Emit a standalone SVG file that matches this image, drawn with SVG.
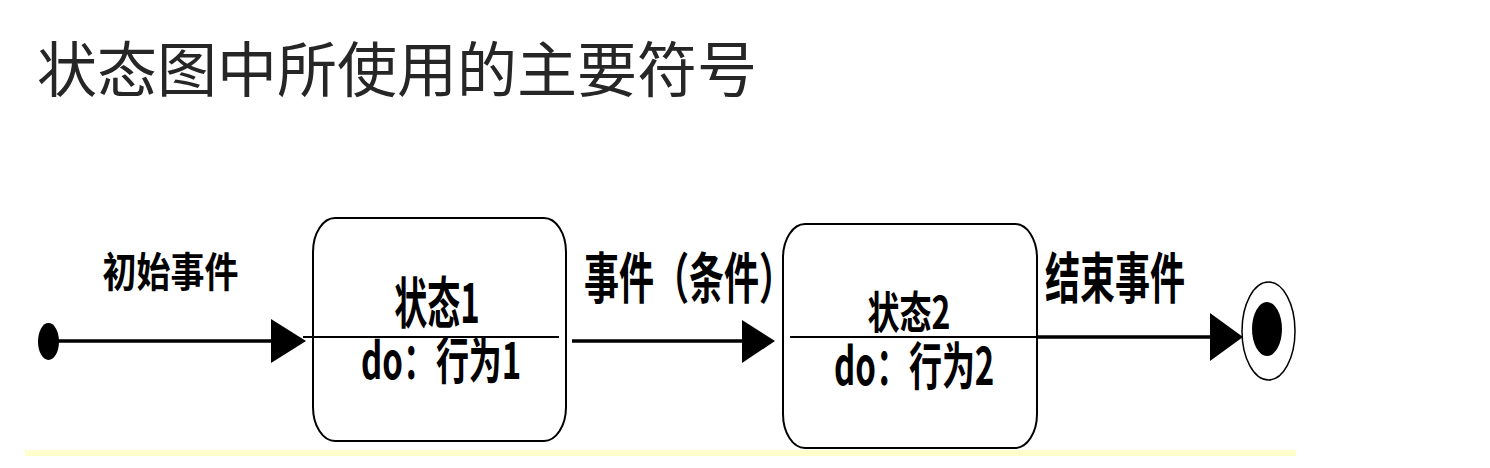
<svg xmlns="http://www.w3.org/2000/svg" width="1490" height="468" viewBox="0 0 1490 468">
  <style>
    .title { font-family: "Noto Sans CJK SC", "Noto Sans", sans-serif; font-size: 60px; fill: #262626; }
    .lbl { font-family: "Noto Sans CJK SC", "Noto Sans", sans-serif; font-weight: 700; fill: #000; }
    .state { fill: #fff; stroke: #000; stroke-width: 2; }
    .div { stroke: #000; stroke-width: 2; }
    .edge { stroke: #000; stroke-width: 3.5; fill: none; }
    .head { fill: #000; }
  </style>
  <rect x="0" y="0" width="1490" height="468" fill="#fff"/>
  <text class="title" x="37" y="92">状态图中所使用的主要符号</text>
  <rect x="25" y="450" width="1271" height="6" fill="#ffffcc"/>

  <g id="connectors">
    <line class="edge" x1="58" y1="341" x2="273" y2="341"/>
    <polygon class="head" points="271,319 306,341 271,363"/>
    <text class="lbl" font-size="34" text-anchor="middle" transform="translate(170.5,287) scale(1,1.21)">初始事件</text>

    <line class="edge" x1="572" y1="341" x2="744" y2="341"/>
    <polygon class="head" points="742,320 775,341 742,363"/>
    <text class="lbl" font-size="35" transform="translate(584,298) scale(1,1.56)">事件（条件）</text>

    <line class="edge" x1="1037" y1="337" x2="1212" y2="337"/>
    <polygon class="head" points="1210,313 1243,337 1210,361"/>
    <text class="lbl" font-size="35" text-anchor="middle" transform="translate(1115,298) scale(1,1.56)">结束事件</text>
  </g>

  <g id="initial">
    <ellipse cx="48.5" cy="341.5" rx="10.5" ry="18.5" fill="#000"/>
  </g>

  <g id="state1">
    <rect class="state" x="313" y="218" width="253" height="223" rx="22" ry="34"/>
    <line class="div" x1="303" y1="337" x2="559" y2="337"/>
    <text class="lbl" font-size="33" text-anchor="middle" transform="translate(437,323) scale(1,1.65)">状态1</text>
    <text class="lbl" font-size="33" transform="translate(361,379) scale(1,1.52)">do：行为1</text>
  </g>

  <g id="state2">
    <rect class="state" x="783" y="224" width="254" height="224" rx="22" ry="34"/>
    <line class="div" x1="790" y1="337" x2="1037" y2="337"/>
    <text class="lbl" font-size="32" text-anchor="middle" transform="translate(909,329) scale(1,1.39)">状态2</text>
    <text class="lbl" font-size="33" transform="translate(834,385) scale(1,1.55)">do：行为2</text>
  </g>

  <g id="final">
    <ellipse cx="1268.5" cy="331" rx="26.5" ry="49" fill="#fff" stroke="#000" stroke-width="1.5"/>
    <ellipse cx="1267" cy="329" rx="15" ry="27" fill="#000"/>
  </g>
</svg>
